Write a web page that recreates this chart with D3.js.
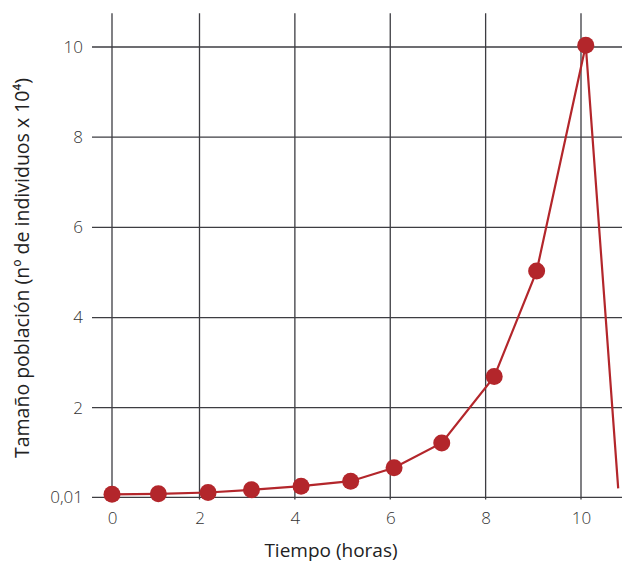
<!DOCTYPE html>
<html>
<head>
<meta charset="utf-8">
<script src="https://cdn.jsdelivr.net/npm/d3@7"></script>
<style>
  html, body { margin: 0; padding: 0; background: #fff; }
  svg { display: block; }
  text { font-family: "Open Sans", "Noto Sans", sans-serif; }
</style>
</head>
<body>
<svg id="chart" width="622" height="571"></svg>
<script>
// Data
const hours = [0, 1.06, 2.18, 3.09, 4.13, 5.17, 6.08, 7.08, 8.18, 9.07, 10.1, 10.78];
const population = [0.08, 0.09, 0.12, 0.18, 0.26, 0.37, 0.67, 1.22, 2.69, 5.03, 10.04, 0.21];
const markerShown = [true, true, true, true, true, true, true, true, true, true, true, false];
const xTicks = [0, 2, 4, 6, 8, 10];
const xTickLabels = ["0", "2", "4", "6", "8", "10"];
const yTicks = [0.01, 2, 4, 6, 8, 10];
const yTickLabels = ["0,01", "2", "4", "6", "8", "10"];
const xTitle = "Tiempo (horas)";
const yTitle = "Tamaño población (nº de individuos x 10⁴)";

const svg = d3.select("#chart");
const red = "#b3262b";
const gridColor = "#3d3d42";

const x = d3.scaleLinear().domain([0, 2, 10]).range([112, 199.5, 581]);
const y = d3.scaleLinear().domain([0, 10]).range([497.9, 47]);
const yTop = 10.75;
const gridRight = 622;
const gridLeft = 92;

// vertical grid lines
svg.append("g").selectAll("line").data(xTicks).join("line")
  .attr("x1", d => x(d)).attr("x2", d => x(d))
  .attr("y1", y(yTop)).attr("y2", y(0) + 1.5)
  .attr("stroke", gridColor).attr("stroke-width", 1.3);

// horizontal grid lines
svg.append("g").selectAll("line").data(yTicks).join("line")
  .attr("x1", gridLeft).attr("x2", gridRight)
  .attr("y1", d => y(d)).attr("y2", d => y(d))
  .attr("stroke", gridColor).attr("stroke-width", 1.3);

// x axis labels
const xAxis = d3.axisBottom(x).tickValues(xTicks).tickSize(0).tickPadding(0)
  .tickFormat((d, i) => xTickLabels[i]);
const gx = svg.append("g").attr("transform", `translate(0, ${y(0) + 14})`).call(xAxis);
gx.select(".domain").remove();
gx.selectAll("text").attr("font-size", 17).attr("fill", "#333")
  .attr("font-weight", 300).attr("font-family", "\"Open Sans\", sans-serif");

// y axis labels
const yAxis = d3.axisLeft(y).tickValues(yTicks).tickSize(0).tickPadding(0)
  .tickFormat((d, i) => yTickLabels[i]);
const gy = svg.append("g").attr("transform", "translate(83, 0)").call(yAxis);
gy.select(".domain").remove();
gy.selectAll("text").attr("font-size", 17).attr("fill", "#333")
  .attr("font-weight", 300).attr("font-family", "\"Open Sans\", sans-serif");

// titles
svg.append("text").attr("x", 331).attr("y", 557).attr("text-anchor", "middle")
  .attr("font-size", 19).attr("fill", "#222").text(xTitle);
svg.append("text").attr("transform", "translate(29, 268) rotate(-90)")
  .attr("text-anchor", "middle").attr("font-size", 19.5).attr("fill", "#222").text(yTitle);

// line
const pts = hours.map((h, i) => ({ h, v: population[i], m: markerShown[i] }));
svg.append("path").datum(pts)
  .attr("d", d3.line().x(d => x(d.h)).y(d => y(d.v)))
  .attr("fill", "none").attr("stroke", red).attr("stroke-width", 2.2);

svg.append("g").selectAll("circle").data(pts.filter(d => d.m)).join("circle")
  .attr("cx", d => x(d.h)).attr("cy", d => y(d.v)).attr("r", 8.5)
  .attr("fill", red);
</script>
</body>
</html>
